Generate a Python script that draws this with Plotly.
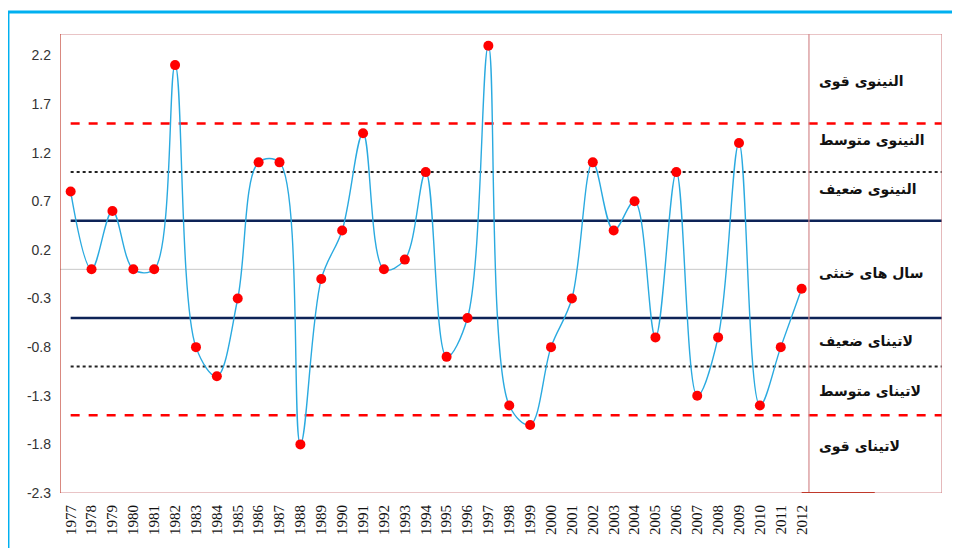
import plotly.graph_objects as go

years = list(range(1977, 2013))
values = [0.8, 0.0, 0.6, 0.0, 0.0, 2.1, -0.8, -1.1, -0.3, 1.1, 1.1, -1.8,
          -0.1, 0.4, 1.4, 0.0, 0.1, 1.0, -0.9, -0.5, 2.3, -1.4, -1.6, -0.8,
          -0.3, 1.1, 0.4, 0.7, -0.7, 1.0, -1.3, -0.7, 1.3, -1.4, -0.8, -0.2]
ytick_vals = [2.2, 1.7, 1.2, 0.7, 0.2, -0.3, -0.8, -1.3, -1.8, -2.3]

# class labels and their vertical positions
class_labels = ["النینوی قوی", "النینوی متوسط", "النینوی ضعیف", "سال های خنثی",
                "لاتینای ضعیف", "لاتینای متوسط", "لاتینای قوی"]
class_y = [1.93, 1.32, 0.82, -0.04, -0.74, -1.26, -1.82]

strong_thr = 1.5
moderate_thr = 1.0
weak_thr = 0.5

X0, X1 = 1976.49, 2018.72
Y0, Y1 = -2.3, 2.42
DIV = 2012.35

fig = go.Figure()
fig.add_trace(go.Scatter(
    x=years, y=values, mode="lines+markers",
    line=dict(color="#2AAAE0", width=1.4, shape="spline", smoothing=1.0),
    marker=dict(color="#FF0000", size=10),
    showlegend=False, cliponaxis=False,
))

shapes = []
# threshold lines
for v, col, dash, w in [(strong_thr, "#FF0000", "dash", 2.5), (-strong_thr, "#FF0000", "dash", 2.5),
                        (moderate_thr, "#222222", "dot", 2), (-moderate_thr, "#222222", "dot", 2),
                        (weak_thr, "#0D2357", "solid", 2.5), (-weak_thr, "#0D2357", "solid", 2.5)]:
    shapes.append(dict(type="line", xref="x", yref="y", x0=1977, x1=X1 + 0.2, y0=v, y1=v,
                       line=dict(color=col, width=w, dash=dash), layer="below"))
# zero line
shapes.append(dict(type="line", xref="x", yref="y", x0=X0, x1=DIV, y0=0, y1=0,
                   line=dict(color="#C8C8C8", width=1), layer="below"))
# frame
frame_col = "#D48A8E"
shapes.append(dict(type="line", xref="x", yref="y", x0=X0 - 0.35, x1=X1, y0=Y1, y1=Y1,
                   line=dict(color=frame_col, width=1.2)))
shapes.append(dict(type="line", xref="x", yref="y", x0=X0 - 0.35, x1=X1, y0=Y0, y1=Y0,
                   line=dict(color=frame_col, width=1.2)))
shapes.append(dict(type="line", xref="x", yref="y", x0=X0, x1=X0, y0=Y0, y1=Y1 + 0.02,
                   line=dict(color="#C0392B", width=1.2)))
shapes.append(dict(type="line", xref="x", yref="y", x0=X1, x1=X1, y0=Y0 - 0.12, y1=Y1 + 0.05,
                   line=dict(color=frame_col, width=1.2)))
shapes.append(dict(type="line", xref="x", yref="y", x0=DIV, x1=DIV, y0=Y0 - 0.12, y1=Y1 + 0.05,
                   line=dict(color=frame_col, width=1.2)))
shapes.append(dict(type="line", xref="x", yref="y", x0=2012.0, x1=2015.5, y0=Y0, y1=Y0,
                   line=dict(color="#C0392B", width=2)))
# outer cyan border
shapes.append(dict(type="line", xref="paper", yref="paper", x0=-0.059, x1=1.05, y0=1.048, y1=1.048,
                   line=dict(color="#00B0F0", width=3)))
shapes.append(dict(type="line", xref="paper", yref="paper", x0=-0.059, x1=-0.059, y0=1.048, y1=-0.2,
                   line=dict(color="#00B0F0", width=3)))

annotations = []
for lab, yv in zip(class_labels, class_y):
    annotations.append(dict(x=DIV + 0.4, y=yv, xref="x", yref="y", text="<b>" + lab + "</b>",
                            showarrow=False, xanchor="left", yanchor="middle",
                            font=dict(family="DejaVu Sans", size=14, color="#111111")))

fig.update_layout(
    width=960, height=548,
    margin=dict(l=52, r=26, t=26, b=63),
    paper_bgcolor="white", plot_bgcolor="white",
    shapes=shapes, annotations=annotations,
    xaxis=dict(range=[X0, X1], tickmode="array", tickvals=years,
               ticktext=[str(y) for y in years], tickangle=-90,
               tickfont=dict(family="Liberation Serif", size=15, color="#111111"),
               showgrid=False, zeroline=False, showline=False, ticks="", ticklabelstandoff=8),
    yaxis=dict(range=[Y0, Y1], tickmode="array", tickvals=ytick_vals,
               ticktext=[f"{v:.1f}" for v in ytick_vals],
               tickfont=dict(family="Liberation Sans", size=14, color="#333333"),
               showgrid=False, zeroline=False, showline=False, ticks="", ticklabelstandoff=8),
)

fig.write_html("out.html")
